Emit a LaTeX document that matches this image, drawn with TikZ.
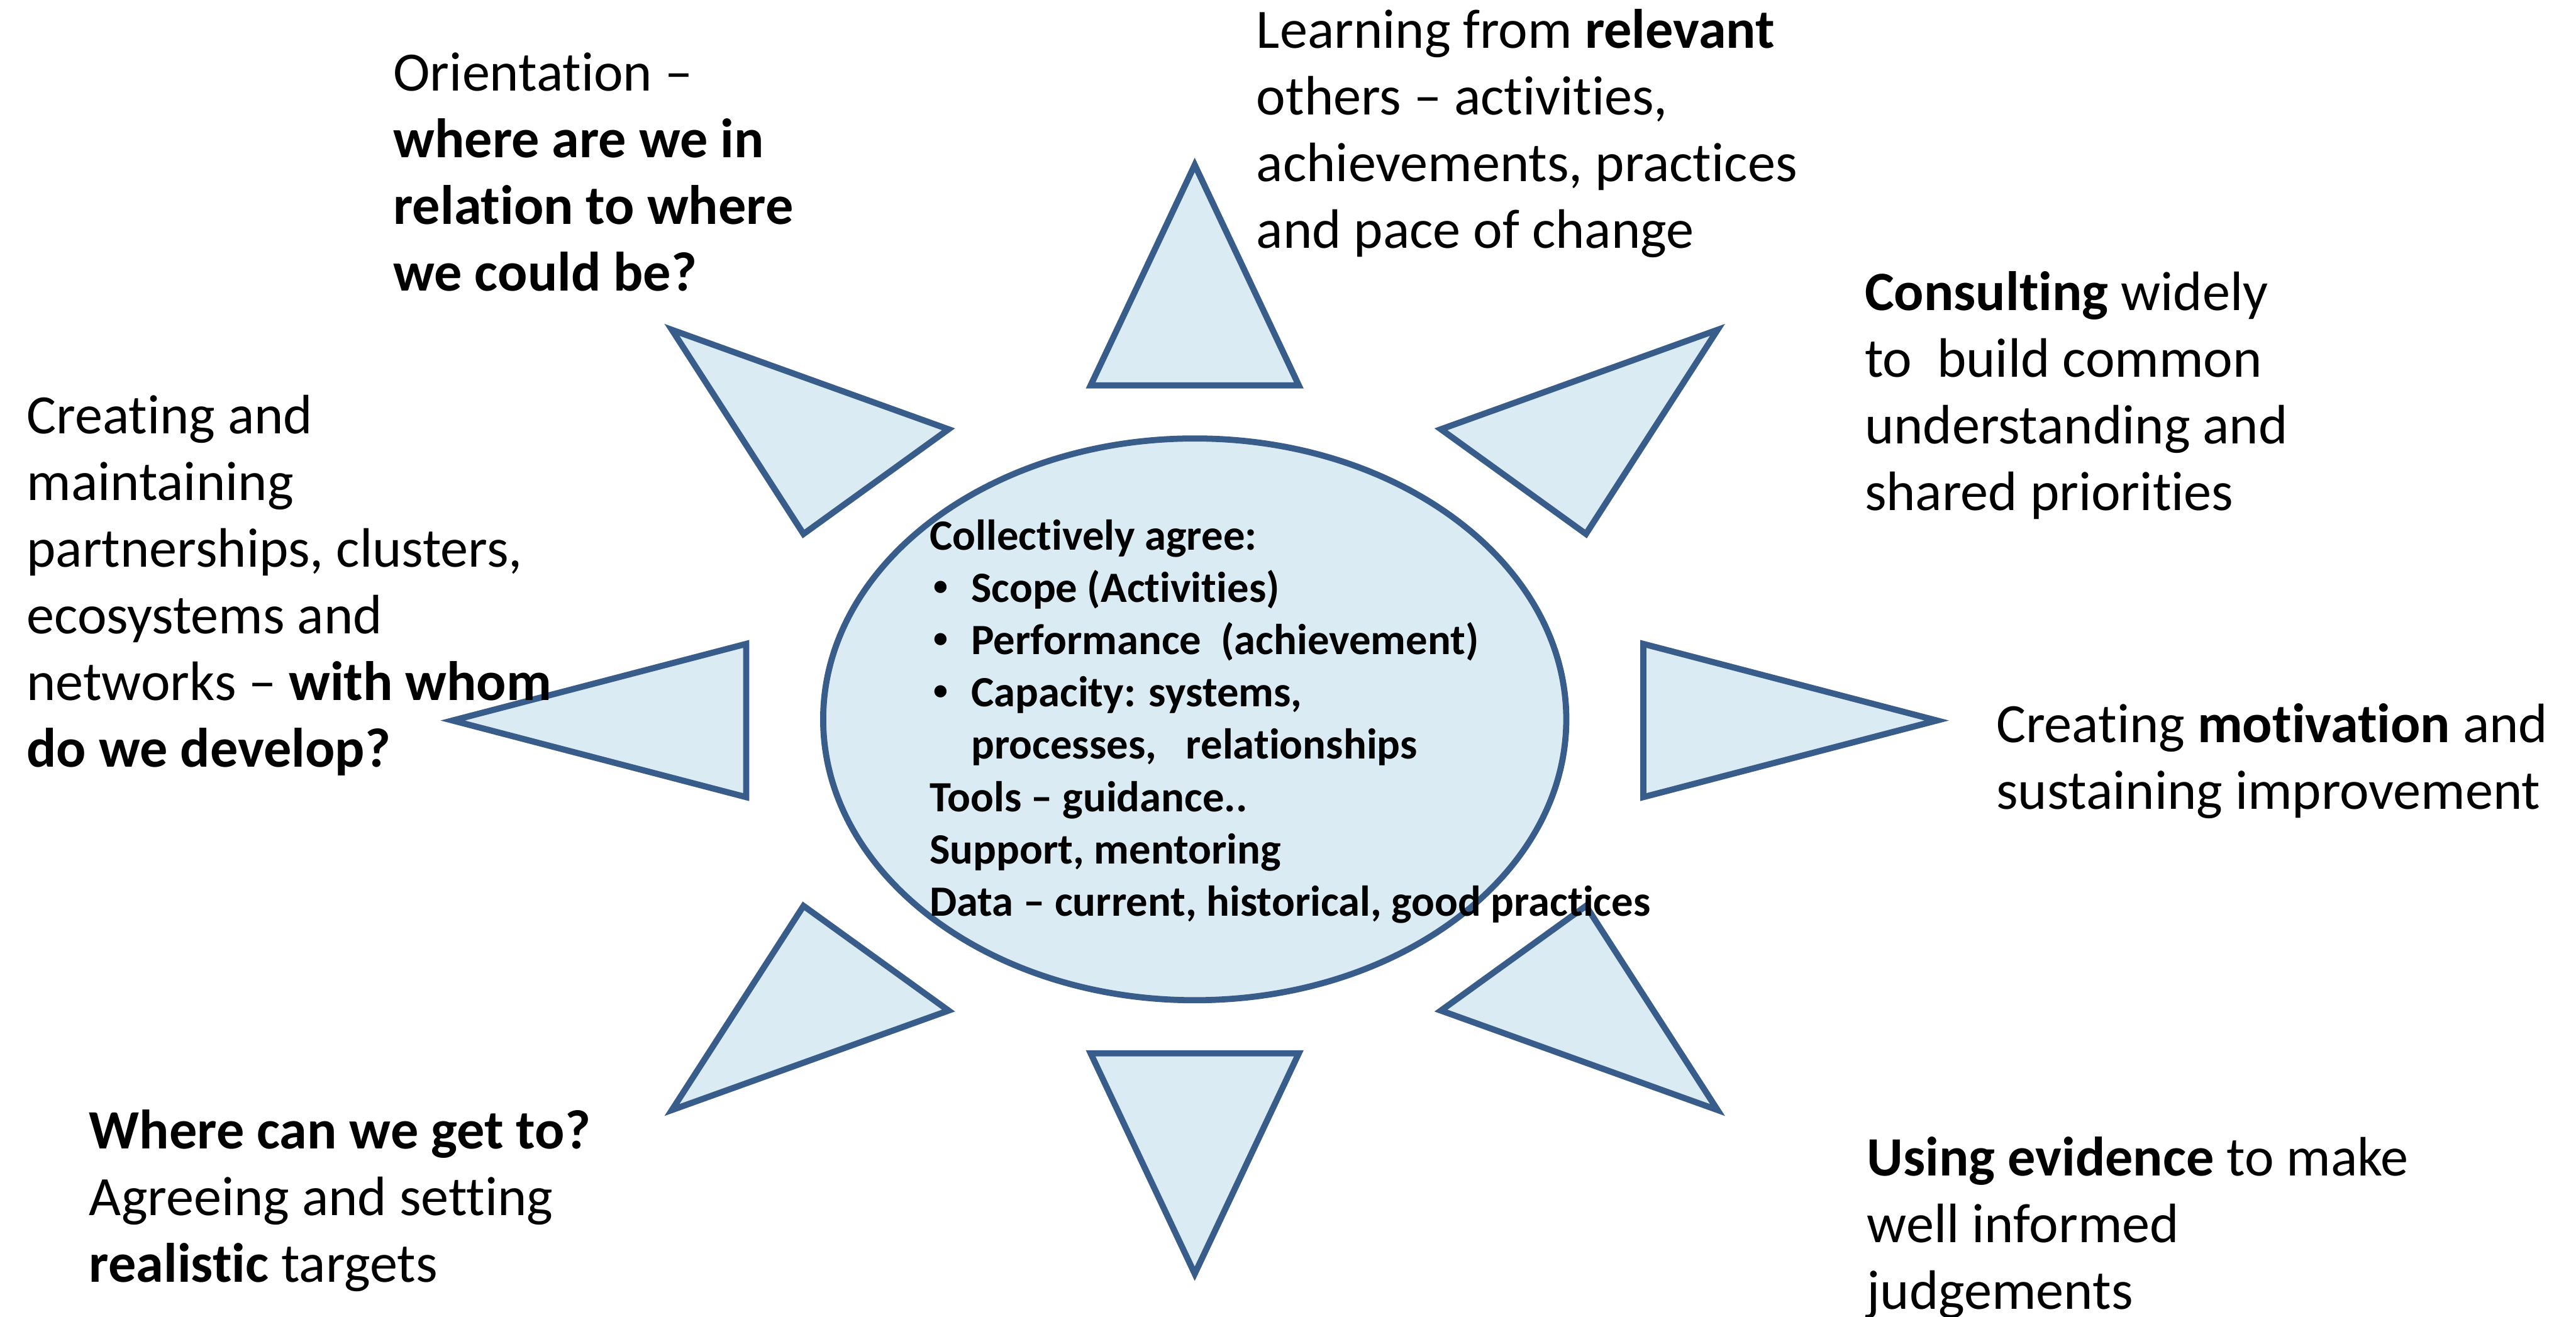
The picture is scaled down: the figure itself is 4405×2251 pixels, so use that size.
\documentclass[tikz,border=0pt]{standalone}
\usepackage{fontspec}
\setmainfont{Carlito}[Ligatures=NoCommon]
\usetikzlibrary{shapes.geometric}
\definecolor{rayline}{HTML}{385D8A}
\definecolor{rayfill}{HTML}{DBEBF3}
% small bullet followed by the list indent
\newcommand{\bulletitem}{\makebox[0.71cm][l]{\hspace{0.07cm}\raisebox{0.16em}{\fontsize{14}{14}\selectfont •}}}
\begin{document}
\begin{tikzpicture}[x=0.01cm, y=-0.01cm,
  ray/.style={draw=rayline, fill=rayfill, line width=0.105cm, line join=miter},
  % multi-line nodes are placed by the baseline of their last line
  caption/.style={anchor=base west, align=left, inner sep=0pt,
    font=\fontsize{27}{32.4}\selectfont},
  core/.style={anchor=base west, align=left, inner sep=0pt,
    font=\bfseries\fontsize{21}{25.4}\selectfont}]
\fill[white] (0,0) rectangle (4405,2251);
\useasboundingbox (0,0) rectangle (4405,2251);

% central ellipse
\node[ellipse, draw=rayline, fill=rayfill, line width=0.105cm,
  minimum width=12.7cm, minimum height=9.6cm, inner sep=0pt] (hub) at (2043,1230) {};

% eight rays around the ellipse
\draw[ray] (2043,282) -- (2221,659) -- (1865,659) -- cycle;          % top
\draw[ray] (2043,2178) -- (2221,1801) -- (1865,1801) -- cycle;       % bottom
\draw[ray] (774,1232) -- (1276,1101) -- (1276,1363) -- cycle;        % left
\draw[ray] (3312,1232) -- (2810,1101) -- (2810,1363) -- cycle;       % right
\draw[ray] (1149,564) -- (1622,734) -- (1374,913) -- cycle;          % upper left
\draw[ray] (2937,564) -- (2464,734) -- (2712,913) -- cycle;          % upper right
\draw[ray] (1149,1898) -- (1622,1728) -- (1374,1549) -- cycle;       % lower left
\draw[ray] (2937,1898) -- (2464,1728) -- (2712,1549) -- cycle;       % lower right

% text in the ellipse
\node[core] (agree) at (1589,1566) {Collectively agree:\\
\bulletitem Scope (Activities)\\
\bulletitem Performance\ \ (achievement)\\
\bulletitem Capacity: systems,\\
\hspace*{0.71cm}processes,\ \ \ relationships\\
Tools – guidance..\\
Support, mentoring\\
Data – current, historical, good practices};

% captions around the rays
\node[caption] (orient) at (672,497) {Orientation –\\
\textbf{where are we in}\\
\textbf{relation to where}\\
\textbf{we could be?}};

\node[caption] (learn) at (2148,424) {Learning from \textbf{relevant}\\
others – activities,\\
achievements, practices\\
and pace of change};

\node[caption] (consult) at (3188,873) {\textbf{Consulting} widely\\
to\ \ build common\\
understanding and\\
shared priorities};

\node[caption] (partner) at (45,1311) {Creating and\\
maintaining\\
partnerships, clusters,\\
ecosystems and\\
networks – \textbf{with whom}\\
\textbf{do we develop?}};

\node[caption] (motiv) at (3413,1383) {Creating \textbf{motivation} and\\
sustaining improvement};

\node[caption] (target) at (152,2192) {\textbf{Where can we get to?}\\
Agreeing and setting\\
\textbf{realistic} targets};

\node[caption] (evidence) at (3192,2238) {\textbf{Using evidence} to make\\
well informed\\
judgements};
\end{tikzpicture}
\end{document}
